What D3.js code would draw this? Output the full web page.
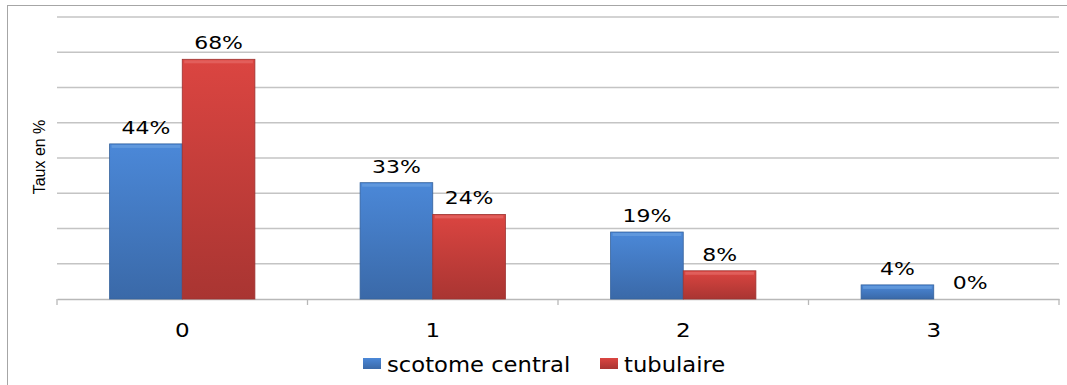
<!DOCTYPE html>
<html>
<head>
<meta charset="utf-8">
<script src="https://cdn.jsdelivr.net/npm/d3@7"></script>
<style>
  body { margin: 0; background: #fff; }
  svg { display: block; }
</style>
</head>
<body>
<script>
// data
var categories = ["0", "1", "2", "3"];
var seriesNames = ["scotome central", "tubulaire"];
var scotome = [44, 33, 19, 4];
var tubulaire = [68, 24, 8, 0];
var yTicks = [0, 10, 20, 30, 40, 50, 60, 70, 80];

var W = 1067, H = 385;
var margin = {top: 17, right: 8, bottom: 86, left: 57},
    width = 1059 - margin.left,
    height = 299 - margin.top;

var svg = d3.select("body").append("svg")
    .attr("width", W)
    .attr("height", H);

var defs = svg.append("defs");
function grad(id, top, bottom) {
  var g = defs.append("linearGradient").attr("id", id)
      .attr("x1", 0).attr("y1", 0).attr("x2", 0).attr("y2", 1);
  g.append("stop").attr("offset", "0%").attr("stop-color", top);
  g.append("stop").attr("offset", "100%").attr("stop-color", bottom);
}
grad("gBlue", "#4b88d8", "#3a69a8");
grad("gRed", "#db4541", "#a93532");

// outer border
svg.append("rect")
    .attr("x", 7.5).attr("y", 5.5)
    .attr("width", W).attr("height", H)
    .attr("fill", "none")
    .attr("stroke", "#a6a6a6")
    .attr("stroke-width", 1);

var g = svg.append("g")
    .attr("transform", "translate(" + margin.left + "," + margin.top + ")");

var x0 = d3.scaleBand().domain(categories).range([0, width]).paddingInner(0).paddingOuter(0);
var x1 = d3.scaleBand().domain(seriesNames).range([0, x0.bandwidth() * 0.58]);
var y = d3.scaleLinear().domain([0, 80]).range([height, 0]);

// gridlines
g.selectAll(".grid").data(yTicks.slice(1))
  .enter().append("line")
    .attr("class", "grid")
    .attr("x1", 0).attr("x2", width)
    .attr("y1", function(d) { return y(d); })
    .attr("y2", function(d) { return y(d); })
    .attr("stroke", "#c4c4c4")
    .attr("stroke-width", 1.3);

// x axis
var xAxis = d3.axisBottom(x0).tickSize(0);
var ax = g.append("g")
    .attr("transform", "translate(0," + height + ")")
    .call(xAxis);
ax.select(".domain").attr("stroke", "#b8b8b8").attr("stroke-width", 1.3);
ax.selectAll("text")
    .attr("y", 38).attr("dy", null)
    .attr("transform", "scale(1.15,1)")
    .style("font-family", "DejaVu Sans")
    .style("font-size", "20px")
    .attr("fill", "#000");
var bounds = [0, 1, 2, 3, 4].map(function(i) { return i * x0.bandwidth(); });
ax.selectAll(".sep").data(bounds)
  .enter().append("line")
    .attr("x1", function(d) { return d; }).attr("x2", function(d) { return d; })
    .attr("y1", 0).attr("y2", 6)
    .attr("stroke", "#b8b8b8").attr("stroke-width", 1.3);

// bars
var rows = categories.map(function(c, i) {
  return {cat: c, vals: [
    {s: seriesNames[0], v: scotome[i], fill: "url(#gBlue)", edge: "#35629c", hi: "#6a9fe0"},
    {s: seriesNames[1], v: tubulaire[i], fill: "url(#gRed)", edge: "#9c3230", hi: "#e66a66"}
  ]};
});
var off = (x0.bandwidth() - x1.range()[1]) / 2;

var grp = g.selectAll(".grp").data(rows)
  .enter().append("g")
    .attr("class", "grp")
    .attr("transform", function(d) { return "translate(" + (x0(d.cat) + off) + ",0)"; });

grp.selectAll(".bar").data(function(d) { return d.vals.filter(function(e) { return e.v > 0; }); })
  .enter().append("rect")
    .attr("class", "bar")
    .attr("x", function(d) { return x1(d.s); })
    .attr("y", function(d) { return y(d.v); })
    .attr("width", x1.bandwidth())
    .attr("height", function(d) { return height - y(d.v); })
    .attr("fill", function(d) { return d.fill; })
    .attr("stroke", function(d) { return d.edge; })
    .attr("stroke-width", 0.8);

grp.selectAll(".hi").data(function(d) { return d.vals.filter(function(e) { return e.v > 0; }); })
  .enter().append("rect")
    .attr("class", "hi")
    .attr("x", function(d) { return x1(d.s) + 2; })
    .attr("y", function(d) { return y(d.v) + 1; })
    .attr("width", x1.bandwidth() - 4)
    .attr("height", 3)
    .attr("fill", function(d) { return d.hi; })
    .attr("opacity", 0.7);

// value labels
grp.selectAll(".lbl").data(function(d) { return d.vals; })
  .enter().append("text")
    .attr("class", "lbl")
    .attr("transform", function(d) {
      return "translate(" + (x1(d.s) + x1.bandwidth() / 2) + "," + (y(d.v) - 10) + ") scale(1.22,1)";
    })
    .attr("text-anchor", "middle")
    .style("font-family", "DejaVu Sans")
    .style("font-size", "18px")
    .attr("fill", "#000")
    .text(function(d) { return d.v + "%"; });

// y axis title
svg.append("text")
    .attr("transform", "translate(45,157) rotate(-90)")
    .attr("text-anchor", "middle")
    .style("font-family", "Liberation Sans")
    .style("font-size", "16px")
    .attr("fill", "#000")
    .text("Taux en %");

// legend
var legendX = [363, 600];
var legendFill = ["url(#gBlue)", "url(#gRed)"];
var leg = svg.selectAll(".leg").data(seriesNames)
  .enter().append("g")
    .attr("class", "leg")
    .attr("transform", function(d, i) { return "translate(" + legendX[i] + ",358)"; });
leg.append("rect")
    .attr("width", 18).attr("height", 11)
    .attr("fill", function(d, i) { return legendFill[i]; });
leg.append("text")
    .attr("transform", "translate(24,14) scale(1.08,1)")
    .style("font-family", "DejaVu Sans")
    .style("font-size", "21px")
    .attr("fill", "#000")
    .text(function(d) { return d; });
</script>
</body>
</html>
